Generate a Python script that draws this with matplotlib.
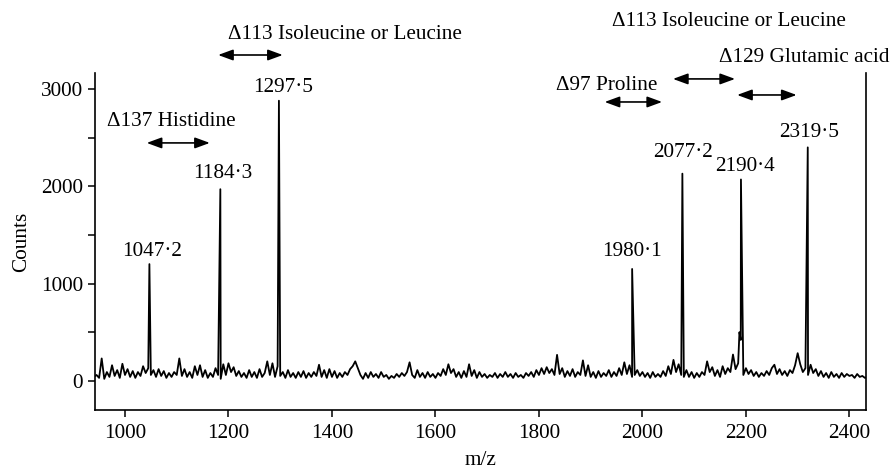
import matplotlib
matplotlib.use('Agg')
import matplotlib.pyplot as plt
import numpy as np

plt.rcParams['font.family'] = ['Liberation Serif', 'DejaVu Serif']

# baseline noise, one value every 5 m/z units starting at 940 (20 values per row = 100 units)
noise = [
    40, 60, 30, 230, 20, 90, 40, 160, 50, 110, 30, 175, 60, 120, 40, 100, 30, 90, 50, 150,
    80, 130, 60, 110, 40, 120, 50, 100, 30, 80, 40, 90, 60, 230, 50, 120, 40, 90, 30, 150,
    60, 160, 40, 110, 30, 80, 40, 130, 60, 20, 170, 60, 180, 90, 140, 50, 100, 40, 80, 30,
    110, 40, 90, 30, 120, 40, 80, 200, 60, 180, 40, 150, 50, 90, 30, 110, 40, 80, 30, 90,
    40, 100, 30, 80, 40, 90, 50, 165, 40, 110, 30, 120, 40, 100, 30, 80, 40, 90, 60, 120,
    150, 200, 130, 60, 20, 80, 30, 90, 40, 70, 30, 90, 40, 60, 20, 50, 30, 70, 40, 80,
    50, 90, 190, 60, 30, 110, 40, 80, 30, 90, 40, 70, 30, 80, 50, 120, 60, 170, 80, 120,
    40, 90, 30, 100, 40, 170, 50, 110, 30, 90, 40, 70, 30, 60, 40, 80, 30, 70, 40, 90,
    40, 70, 30, 80, 40, 60, 30, 80, 50, 90, 40, 110, 60, 130, 70, 140, 80, 120, 60, 267,
    70, 130, 40, 100, 50, 120, 40, 90, 60, 210, 50, 160, 40, 90, 30, 100, 40, 80, 50, 110,
    40, 90, 50, 130, 60, 190, 70, 160, 40, 60, 110, 50, 90, 40, 80, 30, 90, 40, 70, 40,
    100, 50, 150, 70, 215, 90, 170, 60, 40, 110, 40, 90, 30, 80, 40, 90, 60, 200, 90, 140,
    50, 110, 40, 150, 70, 130, 90, 270, 120, 180, 420, 60, 130, 70, 110, 50, 90, 40, 80, 50,
    100, 60, 130, 165, 70, 120, 60, 100, 50, 110, 80, 160, 284, 170, 90, 130, 60, 165, 80, 120,
    50, 100, 40, 80, 30, 90, 40, 70, 30, 80, 40, 70, 50, 60, 30, 70, 40, 50, 30, 40,
]
noise_mz = 940 + 5 * np.arange(len(noise))

# main peaks
peak_mz = [1047.2, 1184.3, 1297.5, 1980.1, 2077.2, 2187.5, 2190.4, 2319.5]
peak_counts = [1200, 1970, 2880, 1150, 2130, 500, 2070, 2400]

# peak labels
label_text = ['1047·2', '1184·3', '1297·5', '1980·1', '2077·2', '2190·4', '2319·5']
label_x = [1052, 1189, 1305, 1979, 2078, 2198, 2322]
label_y = [1326, 2127, 3011, 1326, 2343, 2199, 2549]

# mass differences: text, text position, arrow start, arrow end, arrow height
delta_text = ['Δ137 Histidine', 'Δ113 Isoleucine or Leucine', 'Δ97 Proline',
              'Δ113 Isoleucine or Leucine', 'Δ129 Glutamic acid']
delta_tx = [965, 1199, 1833, 1941, 2148]
delta_ty = [2662, 3556, 3032, 3690, 3320]
arrow_x0 = [1042, 1180, 1927, 2059, 2183]
arrow_x1 = [1164, 1305, 2038, 2179, 2298]
arrow_y = [2446, 3350, 2867, 3104, 2939]

mz = np.concatenate([noise_mz, peak_mz])
counts = np.concatenate([noise, peak_counts])
order = np.argsort(mz)

fig = plt.figure(figsize=(8.9, 4.7), dpi=100)
ax = fig.add_axes([0.1067, 0.1277, 0.8663, 0.717])
ax.plot(mz[order], counts[order], color='black', lw=1.3)

ax.set_xlim(942, 2432)
ax.set_ylim(-300, 3165)
ax.set_xticks([1000, 1200, 1400, 1600, 1800, 2000, 2200, 2400])
ax.set_yticks([0, 1000, 2000, 3000])
ax.set_yticks([500, 1500, 2500], minor=True)
ax.tick_params(axis='both', which='both', direction='out', length=5, width=1.1,
               labelsize=15.3, colors='black')
ax.tick_params(axis='x', pad=5)
ax.spines['top'].set_visible(False)
for s in ['left', 'right', 'bottom']:
    ax.spines[s].set_linewidth(1.2)

ax.set_xlabel('m/z', fontsize=15.3, labelpad=6)
ax.set_ylabel('Counts', fontsize=15.3, labelpad=7)

for t, x, y in zip(label_text, label_x, label_y):
    ax.text(x, y, t, fontsize=15.3, ha='center', va='center')

for i in range(len(delta_text)):
    ax.text(delta_tx[i], delta_ty[i], delta_text[i], fontsize=15.3, ha='left', va='center',
            clip_on=False)
    ax.annotate('', xy=(arrow_x1[i], arrow_y[i]), xytext=(arrow_x0[i], arrow_y[i]),
                annotation_clip=False,
                arrowprops=dict(arrowstyle='<|-|>,head_length=0.6,head_width=0.22',
                                color='black', lw=1.2, mutation_scale=15,
                                shrinkA=0, shrinkB=0))

plt.savefig('out.png', dpi=100)
